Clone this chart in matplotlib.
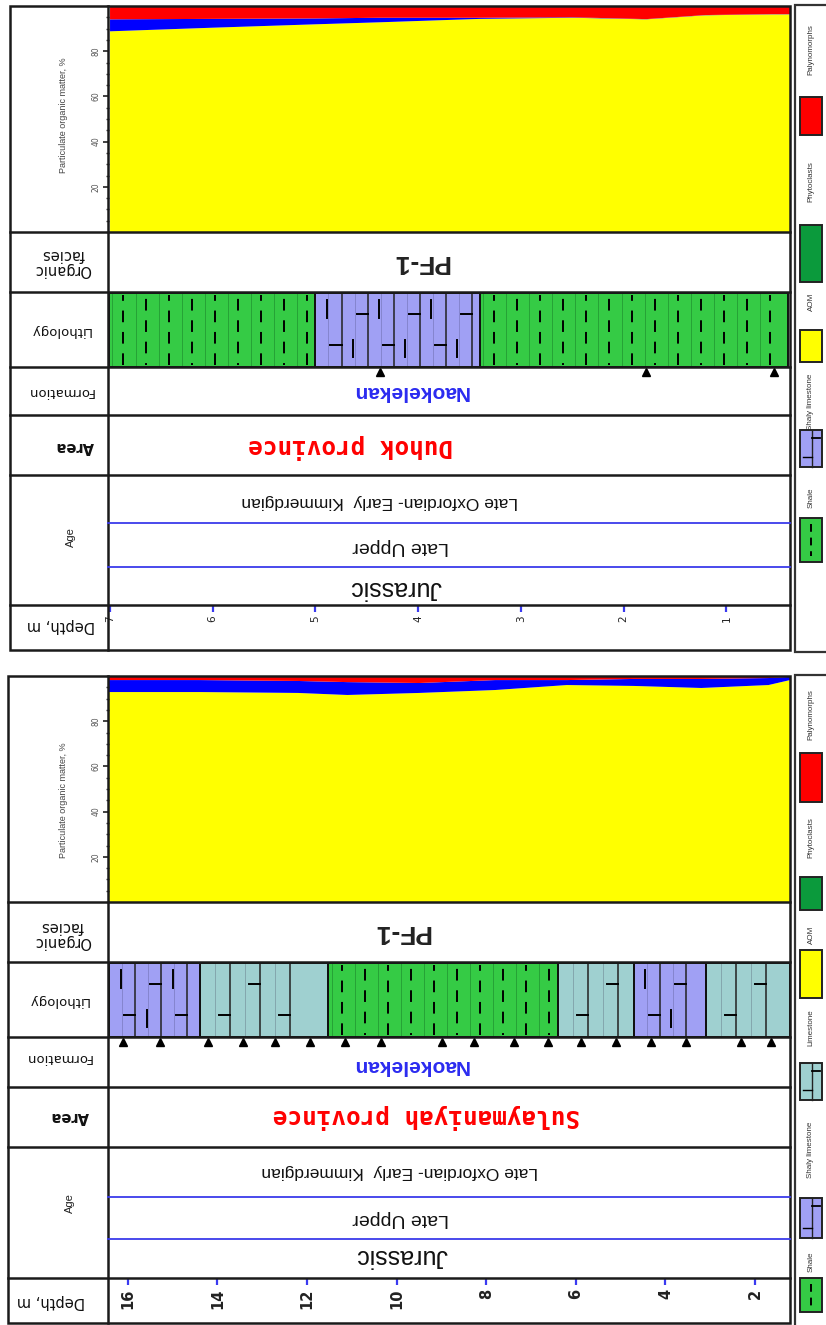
import matplotlib
matplotlib.use("Agg")
import matplotlib.pyplot as plt
import numpy as np
from matplotlib.patches import Rectangle
from matplotlib.ticker import MultipleLocator, FixedLocator
from matplotlib.lines import Line2D

W, H = 826, 1325

# ---------------- data ----------------
# Duhok province section (depth in m, particulate organic matter in %)
duhok_depth = [7.0, 6.0, 5.0, 4.37, 3.4, 2.5, 1.78, 1.2, 0.54, 0.38]
duhok_aom = [88.8, 90.4, 91.9, 92.8, 94.3, 94.8, 94.1, 95.9, 96.3, 96.3]
duhok_phyto = [5.3, 3.9, 2.6, 2.0, 0.5, 0.2, 0.1, 0.1, 0.1, 0.1]
duhok_palyno = [5.9, 5.7, 5.5, 5.2, 5.2, 5.0, 5.8, 4.0, 3.6, 3.6]
duhok_samples = [4.37, 1.78, 0.54]
duhok_litho_top = [7.01, 5.0, 3.4]
duhok_litho_base = [5.0, 3.4, 0.40]
duhok_litho_type = ["shale", "shaly", "shale"]
duhok_ticks = [1, 2, 3, 4, 5, 6, 7]

# Sulaymaniyah province section
sulay_depth = [16.42, 14.4, 12.2, 11.1, 9.5, 7.8, 6.2, 4.7, 3.2, 1.7, 1.22]
sulay_aom = [92.9, 92.9, 92.5, 91.6, 92.5, 93.8, 96.0, 95.6, 94.7, 96.0, 98.2]
sulay_phyto = [5.3, 5.3, 5.3, 5.7, 4.4, 4.4, 2.2, 3.1, 4.0, 3.1, 1.4]
sulay_palyno = [1.8, 1.8, 2.2, 2.7, 3.1, 1.8, 1.8, 1.3, 1.3, 0.9, 0.4]
sulay_samples = [16.11, 15.28, 14.21, 13.43, 12.71, 11.93, 11.15, 10.36,
                 8.98, 8.28, 7.39, 6.63, 5.89, 5.11, 4.32, 3.54, 2.31, 1.64]
sulay_litho_top = [16.42, 14.39, 11.53, 6.40, 4.71, 3.09]
sulay_litho_base = [14.39, 11.53, 6.40, 4.71, 3.09, 1.22]
sulay_litho_type = ["shaly", "lime", "shale", "lime", "shaly", "lime"]
sulay_ticks = [2, 4, 6, 8, 10, 12, 14, 16]

component_names = ["AOM", "Phytoclasts", "Palynomorphs"]

# ---------------- style ----------------
C_AOM, C_PHYTO_AREA, C_PALY = "#ffff00", "#0000ff", "#ff0000"
C_PHYTO_KEY = "#0b9a3c"
C_SHALE, C_SHALY, C_LIME = "#35cb45", "#a0a0f4", "#9fd0d0"
LINE = "#1a1a1a"
TXT_FONT = "Liberation Sans"

fig = plt.figure(figsize=(W / 100, H / 100), dpi=100)
fig.patch.set_facecolor("white")


def rect(x0, y0, x1, y1):
    return [x0 / W, 1 - y1 / H, (x1 - x0) / W, (y1 - y0) / H]


over = fig.add_axes([0, 0, 1, 1], zorder=10)
over.set_xlim(0, W)
over.set_ylim(H, 0)
over.axis("off")
over.patch.set_alpha(0)


def vline(ax, x, y0, y1, **kw):
    ax.add_line(Line2D([x, x], [y0, y1], **kw))


def draw_litho_block(ax, top, base, kind, ppm):
    color = {"shale": C_SHALE, "shaly": C_SHALY, "lime": C_LIME}[kind]
    ax.add_patch(Rectangle((base, 0), top - base, 1, fc=color, ec="none", zorder=1))
    if kind == "shale":
        step = 23.0 / ppm
        xs = np.arange(top - step * 0.6, base + step * 0.3, -step)
        for i, x in enumerate(xs):
            vline(ax, x + step * 0.45, 0, 1, color="#26a236", lw=0.7, zorder=2)
            vline(ax, x, 0.03, 0.97, color="k", lw=1.4, zorder=3,
                  linestyle=((i % 2) * 5, (6, 5)))
    else:
        step = (30.0 if kind == "lime" else 26.0) / ppm
        tick = 11.0 / ppm
        xs = np.arange(top - step, base + step * 0.3, -step)
        for i, x in enumerate(xs):
            vline(ax, x, 0, 1, color="#222222", lw=1.1, zorder=3)
            vline(ax, x + step * 0.5, 0, 1, color="#7f9fa8" if kind == "lime" else "#8080c8",
                  lw=0.6, zorder=2)
            yy = 0.3 if i % 2 == 0 else 0.72
            ax.add_line(Line2D([x, x + tick], [yy, yy], color="k", lw=1.4, zorder=3))
            if kind == "shaly":
                yv = 0.78 if i % 2 == 0 else 0.25
                vline(ax, x + step * 0.55, yv - 0.12, yv + 0.12, color="k", lw=1.4, zorder=3)
    ax.add_patch(Rectangle((base, 0), top - base, 1, fc="none", ec="#111111",
                           lw=1.4, zorder=4))


def draw_panel(g, depth, aom, phyto, paly, samples, ltop, lbase, ltype, ticks,
               dlim, ppm, texts, tick_fs, tick_bold):
    x0, x1, xdiv = g["x0"], g["x1"], g["xdiv"]
    rows = g["rows"]  # y boundaries
    # stacked particulate organic matter
    ax = fig.add_axes(rect(xdiv + 1, rows[0], x1, rows[1]))
    ax.stackplot(depth, aom, phyto, paly, colors=[C_AOM, C_PHYTO_AREA, C_PALY],
                 labels=component_names, lw=0)
    ax.set_xlim(*dlim)
    ax.set_ylim(0, 100)
    for s in ax.spines.values():
        s.set_visible(False)
    ax.set_xticks([])
    ax.yaxis.set_major_locator(FixedLocator([20, 40, 60, 80]))
    ax.yaxis.set_minor_locator(MultipleLocator(5))
    ax.tick_params(axis="y", which="major", length=4, width=1.3, color="#333333",
                   labelsize=5.5, labelcolor="#555555", pad=2, labelrotation=90)
    ax.tick_params(axis="y", which="minor", length=2.5, width=1.0, color="#333333")
    for lab in ax.get_yticklabels():
        lab.set_va("center")

    # lithology column with sample positions
    axl = fig.add_axes(rect(xdiv + 1, rows[2] + 1, x1, rows[3]))
    axl.set_xlim(*dlim)
    axl.set_ylim(0, 1)
    axl.axis("off")
    for t, b, k in zip(ltop, lbase, ltype):
        draw_litho_block(axl, t, b, k, ppm)
    axl.plot(samples, [-0.07] * len(samples), ls="none", marker="^", ms=5.5,
             color="k", clip_on=False, zorder=5)

    # depth scale
    axd = fig.add_axes(rect(xdiv + 1, rows[6] - 1, x1, rows[6] + 1))
    axd.set_xlim(*dlim)
    axd.set_ylim(0, 1)
    for s in axd.spines.values():
        s.set_visible(False)
    axd.set_yticks([])
    axd.set_xticks(ticks)
    axd.set_xticklabels([str(t) for t in ticks])
    axd.tick_params(axis="x", length=4, width=1.6, color="#3a3af0", direction="out",
                    labelsize=tick_fs, labelcolor="#222222", pad=3, labelrotation=90)
    for lab in axd.get_xticklabels():
        lab.set_fontweight("bold" if tick_bold else "normal")

    # frame and row separators
    over.add_patch(Rectangle((x0, rows[0]), x1 - x0, rows[-1] - rows[0], fc="none",
                             ec=LINE, lw=1.8))
    for y in rows[1:-1]:
        over.add_line(Line2D([x0, x1], [y, y], color=LINE, lw=1.8))
    vline(over, xdiv, rows[0], rows[-1], color=LINE, lw=1.8)
    for y in g["age_lines"]:
        over.add_line(Line2D([xdiv, x1], [y, y], color="#3b3bea", lw=1.3))

    # row headers (upside down)
    hc = g["head"]
    over.text(hc["poc"][0], hc["poc"][1], "Particulate organic matter, %", rotation=90,
              ha="center", va="center", fontsize=6.5, color="#444444", family=TXT_FONT)
    heads = [("facies", "Organic\nfacies", 10.5), ("litho", "Lithology", 9.5),
             ("form", "Formation", 9.5), ("area", "Area", 10.5), ("depth", "Depth, m", 10.5)]
    for key, s, fs in heads:
        over.text(hc[key][0], hc[key][1], s, rotation=180, ha="center", va="center",
                  fontsize=fs, color="#111111", family="DejaVu Sans", linespacing=1.0,
                  weight="bold" if key == "area" else "normal")
    over.text(hc["age"][0], hc["age"][1], "Age", rotation=90, ha="center", va="center",
              fontsize=8, color="#222222", family=TXT_FONT)

    # column contents
    for (x, y), s, kw in texts:
        over.text(x, y, s, rotation=180, ha="center", va="center", **kw)


def draw_key(x0, y0, y1, items):
    over.add_patch(Rectangle((x0, y0), W + 10 - x0, y1 - y0, fc="white", ec="#333333",
                             lw=1.6, zorder=1))
    for name, ty, sy0, sy1, kind in items:
        over.text(811, ty, name, rotation=90, ha="center", va="center", fontsize=5.8,
                  color="#333333", family=TXT_FONT)
        color = {"AOM": C_AOM, "Phytoclasts": C_PHYTO_KEY, "Palynomorphs": C_PALY,
                 "shale": C_SHALE, "shaly": C_SHALY, "lime": C_LIME}[kind]
        over.add_patch(Rectangle((800, sy0), 22, sy1 - sy0, fc=color, ec="#222222",
                                 lw=1.4, zorder=3))
        if kind == "shale":
            vline(over, 811, sy0 + 6, sy1 - 6, color="k", lw=1.4, zorder=4,
                  linestyle=(0, (4, 3)))
        elif kind in ("shaly", "lime"):
            vline(over, 812, sy0, sy1, color="#222222", lw=1.0, zorder=4)
            over.add_line(Line2D([812, 820], [sy0 + 8, sy0 + 8], color="k", lw=1.3, zorder=4))
            over.add_line(Line2D([803, 812], [sy1 - 10, sy1 - 10], color="k", lw=1.0, zorder=4))


mono = dict(family="DejaVu Sans Mono", weight="bold", color="#ff0000")
boldsans = dict(family=TXT_FONT, weight="bold")

# ---- Duhok panel ----
g1 = dict(x0=10, x1=790, xdiv=108, rows=[6, 232, 292, 367, 415, 475, 605, 650],
          age_lines=[523, 567],
          head=dict(poc=(63, 115), facies=(63, 262), litho=(60, 330), form=(60, 392),
                    area=(75, 447), age=(71, 537), depth=(61, 626)))
texts1 = [((421, 262), "PF-1", dict(fontsize=19, **boldsans, color="#222222")),
          ((410, 392), "Naokelekan", dict(fontsize=15, **boldsans, color="#2b2bf0")),
          ((351, 447), "Duhok province", dict(fontsize=17.5, **mono)),
          ((380, 502), "Late Oxfordian- Early  Kimmerdgian",
           dict(fontsize=12.5, family=TXT_FONT, color="#111111")),
          ((401, 546), "Late Upper", dict(fontsize=14, family=TXT_FONT, color="#111111")),
          ((396, 588), "Jurassic", dict(fontsize=18, family=TXT_FONT, color="#111111"))]
draw_panel(g1, duhok_depth, duhok_aom, duhok_phyto, duhok_palyno, duhok_samples,
           duhok_litho_top, duhok_litho_base, duhok_litho_type, duhok_ticks,
           (7.01, 0.38), 102.5, texts1, 7.5, False)

# ---- Sulaymaniyah panel ----
g2 = dict(x0=8, x1=790, xdiv=108, rows=[676, 902, 962, 1037, 1087, 1147, 1278, 1323],
          age_lines=[1197, 1239],
          head=dict(poc=(63, 800), facies=(62, 934), litho=(58, 1000), form=(58, 1057),
                    area=(70, 1117), age=(70, 1203), depth=(51, 1302)))
texts2 = [((402, 932), "PF-1", dict(fontsize=19, **boldsans, color="#222222")),
          ((410, 1066), "Naokelekan", dict(fontsize=15, **boldsans, color="#2b2bf0")),
          ((426, 1117), "Sulaymaniyah province", dict(fontsize=17.5, **mono)),
          ((400, 1172), "Late Oxfordian- Early  Kimmerdgian",
           dict(fontsize=12.5, family=TXT_FONT, color="#111111")),
          ((401, 1218), "Late Upper", dict(fontsize=14, family=TXT_FONT, color="#111111")),
          ((402, 1256), "Jurassic", dict(fontsize=18, family=TXT_FONT, color="#111111"))]
draw_panel(g2, sulay_depth, sulay_aom, sulay_phyto, sulay_palyno, sulay_samples,
           sulay_litho_top, sulay_litho_base, sulay_litho_type, sulay_ticks,
           (16.42, 1.22), 44.71, texts2, 10.5, True)

# ---- keys ----
draw_key(795, 5, 652, [("Palynomorphs", 50, 97, 135, "Palynomorphs"),
                       ("Phytoclasts", 182, 225, 282, "Phytoclasts"),
                       ("AOM", 302, 330, 362, "AOM"),
                       ("Shaly limestone", 402, 430, 467, "shaly"),
                       ("Shale", 498, 518, 562, "shale")])
draw_key(795, 675, 1330, [("Palynomorphs", 715, 753, 802, "Palynomorphs"),
                          ("Phytoclasts", 838, 877, 910, "Phytoclasts"),
                          ("AOM", 935, 950, 998, "AOM"),
                          ("Limestone", 1028, 1063, 1100, "lime"),
                          ("Shaly limestone", 1150, 1198, 1238, "shaly"),
                          ("Shale", 1262, 1278, 1312, "shale")])

fig.savefig("out.png", dpi=100, facecolor="white")
